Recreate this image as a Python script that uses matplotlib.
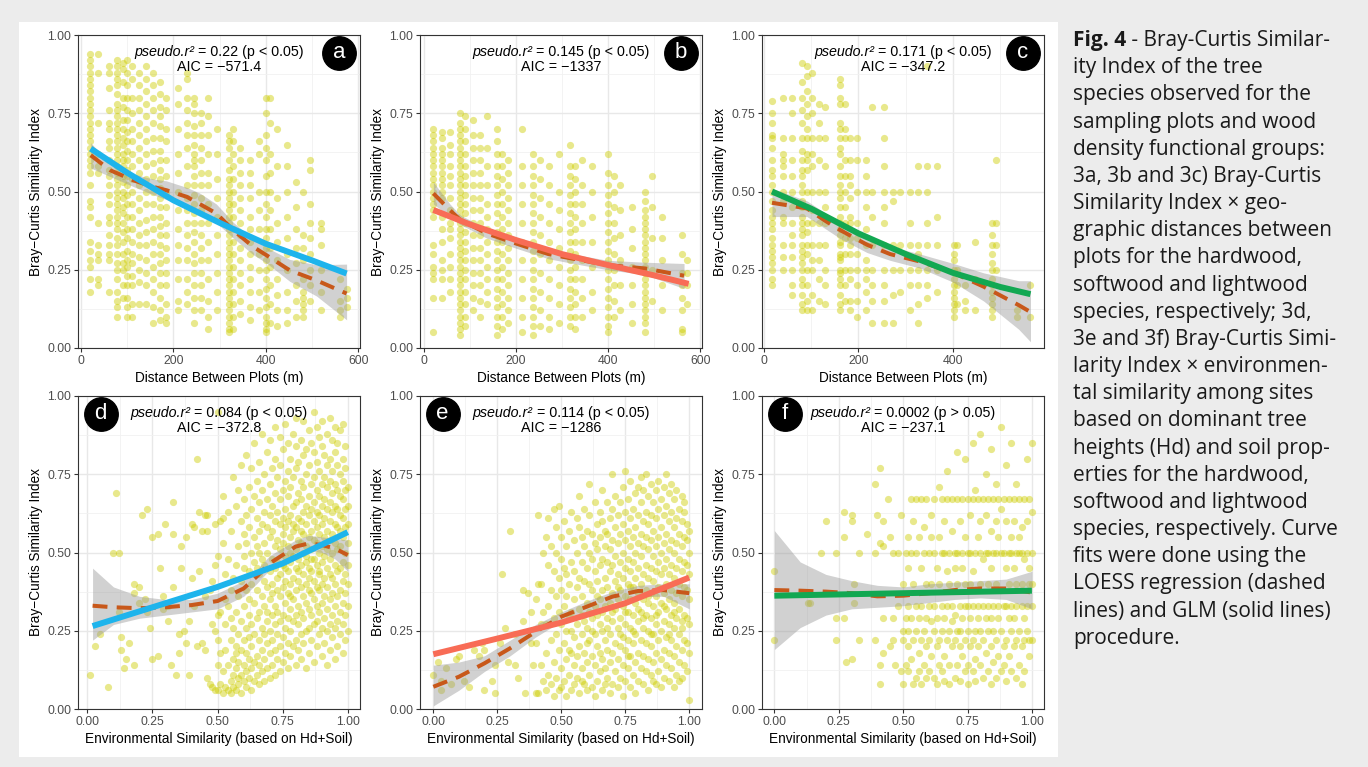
import numpy as np
import matplotlib.pyplot as plt
from matplotlib.patches import Rectangle

plt.rcParams['font.family'] = ['Liberation Sans', 'DejaVu Sans']

# ---- panel a: hardwood, distance (m) -> similarity (values in %)
a_cols = [20, 37, 60, 78, 90, 100, 110, 125, 140, 155, 170, 185, 210, 230, 245, 260, 275,
          295, 320, 330, 345, 365, 385, 400, 410, 425, 445, 465, 480, 495, 520, 560, 575]
a_vals = [
    [94, 92, 90, 88, 86, 84, 82, 80, 78, 76, 74, 72, 70, 68, 66, 64, 62, 60, 58, 56, 52, 47, 45, 42, 34, 31, 28, 26, 22, 18],
    [94, 88, 72, 62, 58, 56, 40, 33, 30, 28, 22, 20],
    [90, 88, 83, 76, 72, 70, 66, 64, 60, 57, 55, 52, 49, 46, 42, 40, 36, 33, 30, 28, 18],
    [92, 90, 88, 86, 84, 81, 78, 76, 74, 72, 70, 68, 66, 64, 62, 60, 58, 56, 54, 52, 50, 48, 46, 44, 42, 40, 38, 35, 33, 30, 27, 25, 22, 18, 15, 13, 10],
    [91, 89, 85, 80, 77, 73, 70, 67, 65, 62, 60, 58, 55, 53, 50, 48, 45, 43, 40, 37, 34, 30, 27, 25, 20, 16],
    [92, 88, 84, 80, 76, 73, 69, 66, 63, 60, 57, 55, 52, 49, 46, 42, 38, 35, 31, 28, 26, 23, 20, 16, 13, 10],
    [90, 86, 80, 75, 70, 66, 62, 58, 54, 50, 46, 42, 38, 34, 30, 27, 23, 20, 14, 10],
    [88, 84, 80, 76, 72, 68, 64, 60, 56, 52, 48, 44, 40, 36, 33, 29, 25, 21, 14],
    [90, 86, 82, 78, 74, 70, 66, 62, 58, 54, 50, 46, 41, 37, 33, 28, 24, 20, 14],
    [88, 84, 80, 76, 72, 67, 63, 59, 55, 50, 46, 42, 38, 34, 30, 26, 22, 18, 13, 8],
    [85, 81, 77, 74, 71, 67, 63, 60, 57, 54, 51, 48, 45, 42, 39, 36, 33, 30, 27, 24, 20, 16, 12, 9],
    [80, 76, 70, 66, 60, 55, 50, 45, 40, 36, 32, 28, 24, 20, 14, 10, 8],
    [83, 78, 70, 62, 56, 50, 44, 38, 33, 28, 22, 15, 12],
    [88, 86, 80, 76, 72, 68, 64, 58, 52, 48, 44, 40, 36, 32, 28, 22, 18, 14],
    [80, 78, 75, 71, 68, 65, 62, 60, 58, 55, 52, 49, 46, 43, 40, 37, 34, 30, 27, 24, 20, 16, 12, 8],
    [75, 72, 68, 64, 60, 56, 52, 48, 44, 40, 36, 32, 28, 24, 20, 16, 12],
    [80, 74, 68, 62, 56, 52, 46, 40, 34, 28, 22, 15, 10, 6],
    [70, 62, 54, 48, 42, 36, 30, 24, 18, 12],
    [68, 66, 64, 60, 57, 54, 52, 50, 48, 46, 44, 42, 40, 38, 36, 34, 32, 30, 28, 26, 24, 22, 20, 18, 16, 14, 12, 10, 8, 6, 5],
    [70, 66, 62, 58, 54, 50, 46, 42, 38, 34, 30, 26, 22, 18, 14, 10, 6],
    [64, 60, 56, 52, 48, 44, 40, 36, 32, 28, 24, 20, 15, 11],
    [60, 56, 52, 48, 42, 38, 34, 30, 26, 22, 18, 13, 9],
    [66, 62, 50, 44, 38, 30, 25, 18, 12],
    [80, 75, 68, 64, 60, 55, 50, 46, 42, 38, 35, 32, 28, 25, 22, 19, 16, 13, 10, 8, 6, 5],
    [80, 72, 62, 56, 50, 44, 38, 32, 26, 20, 14, 8],
    [70, 58, 48, 40, 34, 28, 22, 17, 12, 7],
    [65, 58, 50, 42, 35, 30, 25, 18, 12, 8],
    [53, 45, 38, 32, 27, 20, 15, 10],
    [50, 36, 32, 28, 22, 18, 16, 14, 12, 10],
    [60, 57, 46, 40, 35, 30, 25, 20, 15],
    [40, 38, 33, 25, 18, 12],
    [22, 15, 12, 10],
    [19, 16, 13],
]
a_glm_x = [21, 100, 200, 300, 400, 500, 575]
a_glm_y = [0.637, 0.56, 0.472, 0.40, 0.333, 0.28, 0.238]
a_lo_x = [21, 63, 113, 156, 185, 229, 257, 293, 330, 373, 402, 452, 510, 575]
a_lo_y = [0.616, 0.568, 0.536, 0.515, 0.504, 0.483, 0.46, 0.43, 0.376, 0.323, 0.296, 0.248, 0.216, 0.174]
a_lo_lo = [0.575, 0.548, 0.516, 0.49, 0.474, 0.453, 0.425, 0.40, 0.351, 0.298, 0.271, 0.213, 0.166, 0.09]
a_lo_hi = [0.656, 0.588, 0.556, 0.54, 0.534, 0.513, 0.495, 0.46, 0.401, 0.348, 0.321, 0.283, 0.266, 0.268]

# ---- panel b: softwood
b_cols = [21, 39, 57, 79, 90, 108, 122, 137, 159, 170, 184, 213, 238, 253, 271, 293, 318,
          329, 344, 365, 401, 412, 426, 452, 481, 496, 517, 561, 572]
b_vals = [
    [70, 68, 66, 64, 62, 60, 58, 56, 54, 52, 50, 48, 46, 44, 42, 33, 30, 26, 24, 22, 16, 5],
    [69, 67, 64, 62, 60, 58, 56, 54, 52, 50, 48, 42, 38, 34, 28, 25, 22, 16],
    [69, 65, 62, 58, 55, 52, 48, 44, 40, 38, 35, 30, 26, 22, 18],
    [75, 72, 70, 68, 66, 64, 62, 60, 58, 56, 54, 52, 50, 48, 46, 44, 42, 40, 38, 36, 34, 32, 30, 28, 26, 24, 22, 20, 18, 16, 14, 12, 10, 8, 6, 4],
    [74, 70, 66, 62, 58, 55, 52, 49, 46, 43, 40, 37, 34, 31, 28, 25, 22, 18, 14, 10, 7],
    [73, 68, 64, 60, 56, 52, 48, 44, 40, 36, 32, 28, 24, 20, 16, 12],
    [68, 64, 60, 56, 52, 48, 44, 40, 36, 32, 28, 24, 20, 15, 10],
    [74, 64, 58, 52, 46, 42, 38, 34, 30, 26, 22, 18, 14],
    [70, 66, 62, 58, 55, 52, 49, 46, 43, 40, 37, 34, 31, 28, 25, 22, 19, 16, 13, 10, 7, 4],
    [62, 58, 54, 50, 46, 42, 38, 34, 30, 26, 22, 18, 14, 10, 6],
    [60, 56, 52, 48, 44, 40, 36, 32, 28, 24, 20, 16, 12, 8],
    [70, 58, 52, 46, 40, 34, 28, 22, 16, 10, 5],
    [62, 58, 55, 52, 49, 46, 43, 40, 37, 34, 31, 28, 25, 22, 19, 16, 13, 10, 7, 4],
    [60, 54, 48, 42, 36, 30, 24, 18, 12, 7],
    [58, 52, 46, 40, 34, 28, 22, 16, 10, 6],
    [62, 50, 44, 38, 32, 26, 20, 14, 8],
    [65, 58, 55, 52, 49, 46, 43, 40, 37, 34, 31, 28, 25, 22, 19, 16, 13, 10, 7],
    [58, 54, 50, 46, 42, 38, 34, 30, 26, 22, 18, 14, 10, 6],
    [60, 52, 46, 40, 34, 28, 22, 16, 10],
    [58, 50, 42, 34, 26, 18, 12],
    [62, 56, 52, 49, 46, 43, 40, 37, 34, 31, 28, 25, 22, 19, 16, 13, 10, 7, 5],
    [55, 50, 45, 40, 35, 30, 25, 20, 15, 10],
    [52, 44, 36, 28, 20, 12],
    [45, 38, 32, 26, 20, 14, 8],
    [50, 47, 44, 42, 40, 38, 36, 34, 32, 30, 28, 26, 24, 22, 20, 18, 16, 14, 12, 10, 8, 5],
    [55, 45, 35, 25, 15],
    [42, 35, 28, 20, 12],
    [36, 30, 24, 20, 16, 12, 6, 5],
    [28, 24, 20, 14],
]
b_glm_x = [21, 100, 200, 300, 400, 500, 575]
b_glm_y = [0.441, 0.395, 0.345, 0.30, 0.265, 0.232, 0.205]
b_lo_x = [21, 57, 79, 137, 200, 271, 343, 400, 481, 565]
b_lo_y = [0.494, 0.44, 0.41, 0.366, 0.334, 0.30, 0.28, 0.265, 0.254, 0.231]
b_lo_lo = [0.46, 0.42, 0.395, 0.351, 0.319, 0.285, 0.265, 0.25, 0.234, 0.19]
b_lo_hi = [0.53, 0.46, 0.425, 0.381, 0.349, 0.315, 0.295, 0.28, 0.274, 0.27]

# ---- panel c: lightwood
c_cols = [17, 41, 59, 80, 91, 101, 116, 130, 161, 172, 183, 197, 215, 228, 253, 274, 288,
          309, 327, 345, 366, 402, 408, 426, 447, 483, 490, 535, 564]
c_vals = [
    [79, 75, 72, 68, 67, 64, 60, 57, 55, 52, 50, 47, 44, 42, 40, 38, 35, 33, 31, 29, 27, 25, 22, 20],
    [80, 67, 62, 60, 58, 55, 50, 47, 42, 40, 33, 29, 25],
    [80, 75, 67, 60, 55, 50, 45, 40, 36, 33, 29, 25, 20, 17],
    [91, 85, 80, 76, 72, 67, 63, 60, 57, 55, 52, 50, 47, 45, 42, 40, 38, 36, 33, 31, 29, 27, 25, 22, 20, 17, 14, 12],
    [90, 87, 82, 78, 74, 70, 67, 62, 60, 57, 50, 45, 40, 37, 33, 30, 25, 20, 15, 12],
    [88, 80, 75, 67, 62, 58, 50, 44, 40, 33, 28, 25, 17, 12],
    [78, 72, 67, 60, 50, 40, 33, 28, 22, 15],
    [77, 67, 58, 50, 45, 40, 33, 25, 20, 14],
    [86, 84, 80, 78, 72, 70, 67, 64, 62, 58, 55, 52, 50, 48, 45, 42, 40, 38, 36, 34, 33, 30, 29, 28, 25, 24, 22, 20, 17, 14, 12],
    [78, 70, 67, 60, 55, 50, 45, 40, 35, 30, 25, 20, 15],
    [67, 60, 55, 52, 48, 42, 40, 35, 33, 30, 25, 22, 15, 12],
    [67, 60, 50, 40, 35, 30, 25, 20, 15, 10],
    [60, 55, 50, 45, 38, 33, 28, 25, 22, 18, 12],
    [77, 50, 42, 33, 25, 20, 15, 8],
    [77, 67, 58, 50, 45, 40, 33, 25, 20, 15, 8],
    [50, 47, 33, 25, 17, 8],
    [50, 33, 25, 18],
    [50, 40, 33, 25, 20, 12],
    [58, 50, 33, 30, 25, 20, 14, 8],
    [90, 58, 50, 40, 33, 25, 20, 16],
    [58, 42, 33, 25, 18],
    [33, 30, 28, 25, 22, 20, 18, 16, 14, 12, 10],
    [33, 25, 20, 14],
    [20, 15, 12],
    [34, 22, 12],
    [40, 36, 33, 30, 27, 25, 22, 20, 18, 16, 14, 12, 10],
    [60, 40, 33, 25],
    [12, 10],
    [20, 10],
]
c_glm_x = [17, 100, 200, 300, 400, 500, 564]
c_glm_y = [0.50, 0.445, 0.366, 0.30, 0.24, 0.195, 0.172]
c_lo_x = [17, 91, 126, 161, 218, 267, 331, 401, 465, 539, 564]
c_lo_y = [0.464, 0.446, 0.41, 0.377, 0.33, 0.30, 0.276, 0.24, 0.196, 0.137, 0.115]
c_lo_lo = [0.42, 0.42, 0.385, 0.35, 0.305, 0.28, 0.255, 0.21, 0.15, 0.06, 0.02]
c_lo_hi = [0.51, 0.47, 0.435, 0.40, 0.355, 0.325, 0.30, 0.27, 0.24, 0.215, 0.215]

# ---- panel d: hardwood, environmental similarity (x and y in %)
d_cols = [1, 3, 5, 8, 10, 11, 12, 13, 14, 15, 16, 18, 20, 21, 22, 23, 24, 25, 27, 28, 29, 30,
          31, 32, 33, 34, 35, 36, 37, 38, 39, 40, 41, 42, 43, 44, 45, 46, 47, 48, 49, 50,
          51, 52, 53, 54, 55, 56, 57, 58, 59, 60, 61, 62, 63, 64, 65, 66, 67, 68, 69, 70,
          71, 72, 73, 74, 75, 76, 77, 78, 79, 80, 81, 82, 83, 84, 85, 86, 87, 88, 89, 90,
          91, 92, 93, 94, 95, 96, 97, 98, 99, 100]
d_vals = [
    [11], [20], [24], [7], [50], [69], [50, 31], [23, 19], [13], [16], [21], [37, 40, 14],
    [34, 39], [62], [35], [31, 64], [26], [16, 55], [56, 17], [45], [32, 36], [59],
    [33, 28], [14], [66, 56, 39], [11], [18, 24], [45, 52], [25], [21, 55], [28, 11],
    [42, 59], [58, 33], [80, 20], [63, 44], [21, 57], [19, 36, 62], [62, 57, 10], [38, 8],
    [41, 7, 27], [46, 59, 25, 6], [49, 14, 6, 95, 30, 22],
    [31, 60, 8, 18],
    [53, 61, 68, 5, 12],
    [43, 35, 7, 27, 19],
    [6, 14, 48, 63, 33],
    [5, 9, 22, 38, 57, 29],
    [7, 11, 26, 16, 42, 74],
    [6, 13, 20, 31, 46, 65, 18],
    [8, 15, 24, 36, 52, 70, 10],
    [5, 11, 19, 28, 41, 60, 78],
    [9, 14, 22, 33, 49, 56, 67, 45],
    [7, 12, 18, 26, 38, 53, 62, 81],
    [10, 16, 23, 30, 44, 58, 71, 35],
    [6, 13, 20, 27, 40, 50, 64, 77],
    [9, 15, 24, 34, 47, 55, 68, 85],
    [11, 17, 29, 38, 52, 61, 73, 45],
    [8, 14, 22, 31, 43, 57, 66, 79, 50],
    [12, 19, 26, 36, 48, 59, 70, 88],
    [9, 16, 24, 33, 41, 53, 63, 75, 46],
    [13, 21, 28, 39, 50, 58, 67, 82, 31],
    [10, 18, 25, 35, 44, 55, 62, 72, 86],
    [14, 22, 30, 40, 48, 57, 65, 77, 37],
    [11, 19, 27, 33, 45, 52, 60, 69, 80, 90],
    [16, 24, 31, 38, 47, 54, 63, 74, 42],
    [12, 20, 28, 36, 43, 51, 59, 67, 78, 87],
    [15, 23, 30, 39, 46, 53, 61, 70, 83, 56],
    [18, 26, 34, 41, 49, 58, 64, 73, 91, 45],
    [13, 21, 29, 37, 44, 52, 60, 68, 76, 85],
    [17, 25, 32, 40, 47, 55, 62, 71, 80, 50, 36],
    [20, 28, 35, 42, 49, 57, 65, 74, 88, 59],
    [14, 22, 30, 38, 45, 51, 58, 66, 77, 84, 93],
    [19, 27, 33, 41, 48, 54, 61, 69, 79, 44],
    [16, 24, 31, 39, 46, 53, 60, 67, 73, 86, 57],
    [21, 29, 36, 43, 50, 56, 63, 71, 81, 92],
    [13, 25, 34, 40, 47, 52, 59, 65, 75, 83, 49],
    [18, 26, 32, 38, 45, 55, 62, 68, 78, 89, 42],
    [22, 30, 37, 44, 51, 57, 64, 72, 85, 48],
    [15, 27, 35, 41, 48, 54, 60, 66, 74, 82, 95],
    [20, 28, 33, 39, 46, 53, 58, 63, 70, 79, 90],
    [24, 31, 38, 44, 50, 56, 62, 68, 76, 87, 43],
    [17, 26, 34, 40, 47, 52, 59, 65, 72, 84, 92],
    [21, 29, 36, 42, 49, 55, 61, 67, 74, 81],
    [14, 25, 32, 39, 45, 51, 57, 64, 71, 78, 88],
    [19, 27, 35, 43, 48, 54, 60, 66, 73, 80, 93],
    [23, 30, 37, 42, 50, 56, 63, 69, 76, 86],
    [16, 26, 33, 40, 46, 53, 59, 65, 72, 82, 90],
    [20, 28, 36, 44, 51, 58, 64, 70, 78, 85],
    [24, 31, 38, 45, 52, 57, 62, 68, 75, 89],
    [18, 27, 34, 41, 47, 55, 61, 67, 73, 80, 91],
    [22, 30, 37, 43, 50, 58, 64, 70, 77, 84],
    [25, 33, 40, 46, 53, 59, 65, 71],
]
d_glm_x = [0.02, 0.25, 0.5, 0.75, 1.0]
d_glm_y = [0.265, 0.325, 0.39, 0.465, 0.565]
d_lo_x = [0.02, 0.1, 0.2, 0.3, 0.4, 0.5, 0.6, 0.65, 0.7, 0.8, 0.85, 0.9, 0.95, 1.0]
d_lo_y = [0.33, 0.325, 0.322, 0.325, 0.332, 0.345, 0.385, 0.423, 0.465, 0.519, 0.529, 0.524, 0.513, 0.492]
d_lo_lo = [0.22, 0.27, 0.29, 0.30, 0.31, 0.32, 0.36, 0.40, 0.445, 0.50, 0.505, 0.50, 0.48, 0.44]
d_lo_hi = [0.45, 0.39, 0.36, 0.35, 0.35, 0.37, 0.41, 0.445, 0.49, 0.54, 0.555, 0.55, 0.545, 0.54]

# ---- panel e: softwood
e_cols = [0, 2, 3, 5, 7, 9, 10, 12, 14, 16, 18, 19, 20, 23, 24, 26, 27, 28, 29, 30, 32, 33,
          35, 36, 37, 38, 39, 40, 41, 42, 43, 44, 45, 46, 47, 48, 49, 50, 51, 52, 53, 54,
          55, 56, 57, 58, 59, 60, 61, 62, 63, 64, 65, 66, 67, 68, 69, 70, 71, 72, 73, 74,
          75, 76, 77, 78, 79, 80, 81, 82, 83, 84, 85, 86, 87, 88, 89, 90, 91, 92, 93, 94,
          95, 96, 97, 98, 99, 100]
e_vals = [
    [11], [15], [9, 6], [13], [8], [16], [17], [9], [7], [19], [17], [21], [6, 19], [9],
    [5, 14], [21], [43], [26], [15], [57], [14, 24], [10], [38, 28], [5], [37], [21, 31], [14],
    [35, 5, 21],
    [5, 40, 62],
    [40, 14, 27],
    [50, 9, 31],
    [27, 18, 55, 6],
    [11, 46, 33, 61],
    [22, 8, 38, 52],
    [15, 29, 44, 64, 4],
    [10, 24, 36, 50, 58],
    [6, 19, 31, 42, 65],
    [13, 27, 38, 48, 55, 7],
    [9, 21, 33, 45, 60],
    [16, 25, 36, 52, 4, 43],
    [11, 29, 40, 57, 19],
    [6, 18, 31, 47, 63, 25],
    [14, 23, 35, 44, 54, 8],
    [10, 27, 39, 50, 61, 17],
    [5, 20, 32, 42, 58, 68],
    [13, 24, 36, 47, 55, 9, 30],
    [8, 18, 28, 41, 52, 64],
    [15, 26, 34, 45, 57, 6, 21],
    [11, 22, 31, 40, 50, 62, 72],
    [7, 17, 29, 38, 48, 56, 25],
    [14, 24, 33, 44, 53, 66, 4],
    [9, 20, 30, 41, 51, 59, 36],
    [12, 27, 35, 46, 55, 63, 18],
    [6, 16, 25, 38, 48, 60, 70, 31],
    [13, 22, 33, 42, 52, 57, 8],
    [10, 19, 29, 39, 47, 56, 66, 26],
    [15, 24, 34, 44, 51, 61, 5],
    [8, 18, 28, 37, 46, 54, 64, 75, 31],
    [12, 21, 32, 41, 49, 58, 68],
    [16, 26, 35, 43, 53, 62, 7, 39],
    [10, 20, 29, 38, 47, 56, 66, 24],
    [14, 23, 33, 42, 50, 59, 71, 4],
    [9, 19, 27, 36, 45, 54, 63, 76, 31],
    [13, 22, 31, 40, 48, 57, 67, 17],
    [7, 17, 26, 35, 44, 52, 61, 73, 39],
    [11, 21, 30, 39, 47, 55, 64, 25],
    [15, 24, 34, 42, 50, 58, 69, 5],
    [9, 18, 28, 37, 45, 53, 62, 71, 32],
    [13, 22, 31, 40, 49, 56, 66, 74],
    [8, 17, 26, 35, 43, 52, 60, 70, 29],
    [12, 21, 30, 38, 46, 55, 63, 75],
    [6, 16, 25, 34, 42, 51, 59, 68, 36],
    [11, 20, 29, 37, 45, 54, 62, 72, 24],
    [15, 24, 33, 41, 49, 57, 66, 9],
    [8, 18, 27, 36, 44, 52, 61, 70, 30],
    [12, 22, 31, 39, 47, 55, 64, 73],
    [16, 25, 34, 43, 50, 58, 67, 7],
    [10, 19, 28, 37, 45, 53, 62, 71, 33],
    [14, 23, 32, 40, 48, 56, 65, 75],
    [9, 18, 27, 35, 43, 51, 60, 69, 24],
    [13, 22, 30, 38, 46, 54, 63, 72],
    [7, 17, 26, 34, 42, 50, 58, 67, 31],
    [11, 20, 29, 37, 45, 53, 61, 70],
    [15, 24, 32, 40, 48, 56, 64, 9],
    [10, 19, 28, 36, 44, 52, 60, 68, 26],
    [14, 22, 30, 39, 47, 55, 63, 66],
    [12, 21, 29, 38, 46, 54, 59],
    [3, 18, 27, 35, 43, 50, 57],
]
e_glm_x = [0.0, 0.25, 0.5, 0.75, 1.0]
e_glm_y = [0.175, 0.225, 0.276, 0.338, 0.42]
e_lo_x = [0.0, 0.1, 0.2, 0.3, 0.4, 0.5, 0.6, 0.7, 0.8, 0.9, 1.0]
e_lo_y = [0.071, 0.103, 0.146, 0.194, 0.247, 0.295, 0.327, 0.359, 0.377, 0.38, 0.37]
e_lo_lo = [0.01, 0.06, 0.12, 0.17, 0.23, 0.28, 0.31, 0.34, 0.36, 0.36, 0.32]
e_lo_hi = [0.14, 0.15, 0.17, 0.22, 0.27, 0.31, 0.345, 0.375, 0.395, 0.40, 0.40]

# ---- panel f: lightwood
f_cols = [0, 13, 14, 18, 20, 24, 27, 28, 30, 31, 33, 36, 39, 40, 41, 42, 44, 45, 46, 47,
          48, 49, 50, 51, 52, 53, 54, 55, 56, 57, 58, 59, 60, 61, 62, 63, 64, 65, 66, 67,
          68, 69, 70, 71, 72, 73, 74, 75, 76, 77, 78, 79, 80, 81, 82, 83, 84, 85, 86, 87,
          88, 89, 90, 91, 92, 93, 94, 95, 96, 97, 98, 99, 100]
f_vals = [
    [22, 44], [34], [34], [50], [60], [50, 29, 22], [29, 63, 55], [15], [62, 60, 16],
    [40, 34], [22, 50], [56], [72, 50, 22], [62], [77, 53, 14, 8], [60, 18, 29, 52], [67],
    [55, 20], [29, 50, 22], [14], [50, 33], [62, 12], [40, 25, 22, 8], [50, 29, 14],
    [55, 45, 33, 25, 20, 12],
    [67, 50, 29, 16],
    [60, 40, 22, 8],
    [67, 50, 33, 25, 10],
    [55, 29, 18, 12],
    [67, 45, 33, 22, 8],
    [58, 50, 25, 14],
    [67, 40, 29, 20, 10],
    [50, 33, 22, 12],
    [62, 55, 40, 28, 17],
    [67, 50, 33, 25, 10],
    [45, 29, 20, 8],
    [71, 55, 40, 22, 14],
    [67, 50, 33, 25, 12],
    [60, 50, 29, 17, 9],
    [76, 67, 44, 33, 22],
    [50, 40, 25, 14, 8],
    [67, 57, 33, 28, 20],
    [50, 45, 30, 22, 10],
    [82, 67, 50, 40, 25, 14],
    [60, 33, 25, 20, 9],
    [67, 50, 45, 29, 17],
    [80, 55, 40, 33, 22, 12],
    [67, 50, 33, 25, 14, 8],
    [62, 50, 40, 29, 20],
    [85, 67, 44, 33, 22, 12],
    [70, 50, 38, 25, 16, 9],
    [67, 55, 33, 29, 20],
    [88, 60, 50, 40, 25, 14],
    [67, 48, 33, 22, 10],
    [75, 62, 50, 29, 18],
    [67, 50, 40, 33, 25, 12],
    [83, 57, 45, 29, 20, 8],
    [67, 50, 33, 25, 15],
    [72, 60, 50, 40, 22, 10],
    [67, 55, 33, 29, 17],
    [90, 64, 50, 38, 25, 12],
    [67, 50, 33, 20, 14],
    [78, 60, 45, 33, 22, 9],
    [67, 50, 40, 29, 17],
    [85, 55, 50, 33, 25, 12],
    [67, 60, 45, 29, 20],
    [72, 50, 40, 33, 22, 10],
    [67, 55, 50, 25, 14],
    [58, 50, 40, 33, 20, 8],
    [67, 48, 29, 22, 12],
    [80, 60, 50, 33, 25],
    [67, 45, 40, 22, 17],
    [85, 63, 50, 40, 33, 22],
]
f_glm_x = [0.0, 1.0]
f_glm_y = [0.362, 0.378]
f_lo_x = [0.0, 0.1, 0.2, 0.3, 0.4, 0.5, 0.6, 0.7, 0.8, 0.9, 1.0]
f_lo_y = [0.38, 0.378, 0.375, 0.37, 0.36, 0.362, 0.37, 0.38, 0.385, 0.385, 0.372]
f_lo_lo = [0.19, 0.26, 0.30, 0.32, 0.325, 0.33, 0.34, 0.35, 0.355, 0.35, 0.32]
f_lo_hi = [0.57, 0.47, 0.43, 0.41, 0.395, 0.39, 0.40, 0.405, 0.41, 0.415, 0.44]

stats = [('0.22', '(p < 0.05)', '\u2212571.4'), ('0.145', '(p < 0.05)', '\u22121337'),
         ('0.171', '(p < 0.05)', '\u2212347.2'), ('0.084', '(p < 0.05)', '\u2212372.8'),
         ('0.114', '(p < 0.05)', '\u22121286'), ('0.0002', '(p > 0.05)', '\u2212237.1')]
tags = ['a', 'b', 'c', 'd', 'e', 'f']

caption = [
    'ity Index of the tree',
    'species observed for the',
    'sampling plots and wood',
    'density functional groups:',
    '3a, 3b and 3c) Bray-Curtis',
    'Similarity Index \u00d7 geo-',
    'graphic distances between',
    'plots for the hardwood,',
    'softwood and lightwood',
    'species, respectively; 3d,',
    '3e and 3f) Bray-Curtis Simi-',
    'larity Index \u00d7 environmen-',
    'tal similarity among sites',
    'based on dominant tree',
    'heights (Hd) and soil prop-',
    'erties for the hardwood,',
    'softwood and lightwood',
    'species, respectively. Curve',
    'fits were done using the',
    'LOESS regression (dashed',
    'lines) and GLM (solid lines)',
    'procedure.',
]

W, H = 1368, 767
fig = plt.figure(figsize=(W / 100, H / 100), dpi=100)
fig.patch.set_facecolor('#ececec')
fig.add_artist(Rectangle((19 / W, 10 / H), 1039 / W, 735 / H, transform=fig.transFigure,
                         facecolor='white', edgecolor='none', zorder=-5))

PT = '#cdcd00'
DASH = '#c8581a'
blue, red, green = '#1eb4ec', '#f86c56', '#12a852'
stat_texts = []


def expand(cols, vals, scale):
    xs, ys = [], []
    for c, v in zip(cols, vals):
        xs += [c * scale] * len(v)
        ys += [y / 100 for y in v]
    return xs, ys


def panel(ax, pts, glm, lo, col, tag, tag_x, st, xlim, xticks, xlabs, xminor, xlabel):
    ax.scatter(pts[0], pts[1], s=27, color=PT, alpha=0.45, linewidths=0, zorder=2)
    ax.fill_between(lo[0], lo[2], lo[3], color='0.6', alpha=0.45, linewidth=0, zorder=3)
    ax.plot(lo[0], lo[1], color=DASH, lw=2.9, dashes=(3.7, 2.3), zorder=4)
    ax.plot(glm[0], glm[1], color=col, lw=4.3, solid_capstyle='butt', zorder=5)
    ax.set_xlim(*xlim)
    ax.set_ylim(0, 1)
    ax.set_xticks(xticks)
    ax.set_xticklabels(xlabs)
    ax.set_xticks(xminor, minor=True)
    ax.set_yticks([0, 0.25, 0.5, 0.75, 1.0])
    ax.set_yticklabels(['0.00', '0.25', '0.50', '0.75', '1.00'])
    ax.set_yticks([0.125, 0.375, 0.625, 0.875], minor=True)
    ax.grid(True, which='major', color='#e8e8e8', lw=1.0)
    ax.grid(True, which='minor', color='#f1f1f1', lw=0.6)
    ax.set_axisbelow(True)
    ax.tick_params(which='major', length=3, width=0.8, color='#333333',
                   labelcolor='#4d4d4d', labelsize=8.8, pad=2)
    ax.tick_params(which='minor', length=0)
    for s in ax.spines.values():
        s.set_color('#333333')
        s.set_linewidth(0.8)
    ax.set_ylabel('Bray\u2212Curtis Similarity Index', fontsize=9.8, labelpad=3)
    ax.set_xlabel(xlabel, fontsize=9.8, labelpad=3)
    ti = ax.text(0.3, 0.947, 'pseudo.r\u00b2', style='italic', transform=ax.transAxes,
                 ha='left', va='center', fontsize=10.3, zorder=7)
    tr = ax.text(0.5, 0.947, ' = ' + st[0] + ' ' + st[1], transform=ax.transAxes,
                 ha='left', va='center', fontsize=10.3, zorder=7)
    stat_texts.append((ax, ti, tr))
    ax.text(0.5, 0.897, 'AIC = ' + st[2], transform=ax.transAxes, ha='center',
            va='center', fontsize=10.3, zorder=7)
    ax.scatter([tag_x], [0.943], s=580, color='black', transform=ax.transAxes,
               clip_on=False, zorder=8)
    ax.text(tag_x, 0.943, tag, transform=ax.transAxes, ha='center', va='center',
            color='white', fontsize=16, zorder=9)


lefts = [78, 420, 762]
dist_ticks = [0, 200, 400, 600]
env_ticks = [0, 0.25, 0.5, 0.75, 1.0]
env_labs = ['0.00', '0.25', '0.50', '0.75', '1.00']
top = [
    (a_cols, a_vals, (a_glm_x, a_glm_y), (a_lo_x, a_lo_y, a_lo_lo, a_lo_hi), blue, (-6.5, 604)),
    (b_cols, b_vals, (b_glm_x, b_glm_y), (b_lo_x, b_lo_y, b_lo_lo, b_lo_hi), red, (-8, 604)),
    (c_cols, c_vals, (c_glm_x, c_glm_y), (c_lo_x, c_lo_y, c_lo_lo, c_lo_hi), green, (-4.2, 592.6)),
]
bottom = [
    (d_cols, d_vals, (d_glm_x, d_glm_y), (d_lo_x, d_lo_y, d_lo_lo, d_lo_hi), blue, (-0.036, 1.047)),
    (e_cols, e_vals, (e_glm_x, e_glm_y), (e_lo_x, e_lo_y, e_lo_lo, e_lo_hi), red, (-0.052, 1.05)),
    (f_cols, f_vals, (f_glm_x, f_glm_y), (f_lo_x, f_lo_y, f_lo_lo, f_lo_hi), green, (-0.048, 1.047)),
]

for i, (cols, vals, glm, lo, col, xl) in enumerate(top):
    ax = fig.add_axes([lefts[i] / W, (H - 348) / H, 282 / W, 313 / H])
    ticks = [t for t in dist_ticks if t <= xl[1]]
    panel(ax, expand(cols, vals, 1), glm, lo, col, tags[i], 0.925, stats[i], xl,
          ticks, [str(t) for t in ticks], [100, 300, 500], 'Distance Between Plots (m)')

for i, (cols, vals, glm, lo, col, xl) in enumerate(bottom):
    ax = fig.add_axes([lefts[i] / W, (H - 709) / H, 282 / W, 313 / H])
    panel(ax, expand(cols, vals, 0.01), glm, lo, col, tags[i + 3], 0.08, stats[i + 3], xl,
          env_ticks, env_labs, [0.125, 0.375, 0.625, 0.875],
          'Environmental Similarity (based on Hd+Soil)')

# caption on the right
cx = 1073 / W
cfont = dict(family=['Open Sans', 'DejaVu Sans'], fontsize=15.0, color='#1a1a1a', va='baseline')
t1 = fig.text(cx, 1 - 46 / H, 'Fig. 4', fontweight='bold', **cfont)
fig.canvas.draw()
r = fig.canvas.get_renderer()
w1 = t1.get_window_extent(r).width / W
fig.text(cx + w1, 1 - 46 / H, ' - Bray-Curtis Similar-', **cfont)
for k, line in enumerate(caption):
    fig.text(cx, 1 - (46 + 27.17 * (k + 1)) / H, line, **cfont)

# centre the two-part "pseudo.r² = ..." line in each panel
for ax, ti, tr in stat_texts:
    wi = ti.get_window_extent(r).width
    wr = tr.get_window_extent(r).width
    aw = ax.get_window_extent(r).width
    x0 = 0.5 - (wi + wr) / 2 / aw
    ti.set_x(x0)
    tr.set_x(x0 + wi / aw)

fig.savefig('out.png', dpi=100, facecolor=fig.get_facecolor())
